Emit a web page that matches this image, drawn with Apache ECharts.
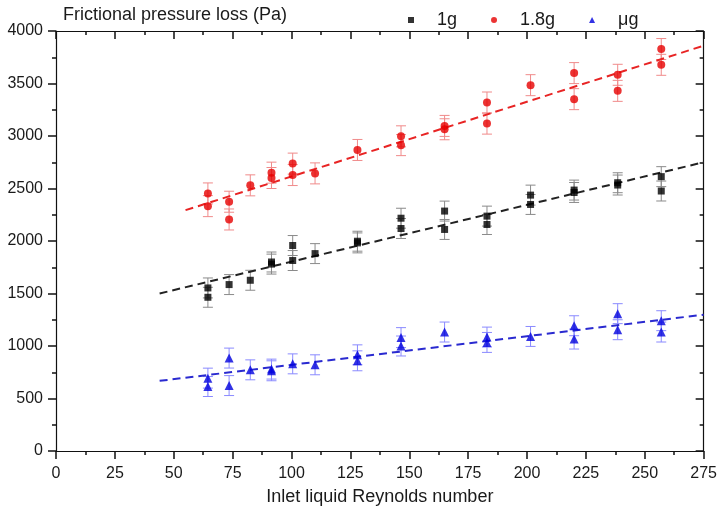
<!DOCTYPE html>
<html>
<head>
<meta charset="utf-8">
<script src="https://cdn.jsdelivr.net/npm/echarts@6/dist/echarts.min.js"></script>
<style>html,body{margin:0;padding:0;background:#fff}#c{width:720px;height:512px}</style>
</head>
<body>
<div id="c"></div>
<script>
// ---- data ----
const xTicks = [0, 25, 50, 75, 100, 125, 150, 175, 200, 225, 250, 275];
const yTicks = [0, 500, 1000, 1500, 2000, 2500, 3000, 3500, 4000];

const re1g = [64.5,64.5,73.5,82.5,91.5,91.5,100.5,100.5,110,128,128,146.5,146.5,165,165,183,183,201.5,201.5,220,220,238.5,238.5,257,257];
const dp1g = [1553,1464,1585,1626,1800,1780,1957,1814,1880,1998,1982,2217,2119,2285,2110,2237,2157,2437,2348,2485,2462,2555,2533,2613,2476];

const re18g = [64.5,64.5,73.5,73.5,82.5,91.5,91.5,100.5,100.5,110,128,146.5,146.5,165,165,183,183,201.5,220,220,238.5,238.5,257,257];
const dp18g = [2453,2332,2374,2205,2530,2651,2600,2737,2628,2644,2867,2997,2913,3096,3064,3319,3118,3484,3599,3351,3583,3430,3828,3678];

const reUg = [64.5,64.5,73.5,73.5,82.5,91.5,91.5,100.5,110,128,128,146.5,146.5,165,183,183,201.5,220,220,238.5,238.5,257,257];
const dpUg = [694,614,885,623,773,780,764,830,821,916,859,1080,1000,1133,1085,1034,1091,1193,1066,1308,1155,1241,1133];

const err1g = 95, err18g = 100, errUg = 95;

const fit1g = [[44, 1500], [275, 2750]];
const fit18g = [[55, 2294], [275, 3860]];
const fitUg = [[44, 668], [275, 1298]];

const names = ['1g', '1.8g', 'μg'];
// --------------------------------------

const pts = (xs, ys) => xs.map((x, i) => [x, ys[i]]);
const errPts = (xs, ys, e) => xs.map((x, i) => [x, ys[i], e]);

const FONT = 'Liberation Sans, Arial, sans-serif';
const TXT = '#1a1a1a';

function errSeries(xs, ys, e, color) {
  return {
    type: 'custom',
    silent: true,
    z: 1,
    data: errPts(xs, ys, e),
    encode: { x: 0, y: 1 },
    renderItem: function (params, api) {
      const x = api.value(0), y = api.value(1), er = api.value(2);
      const t = api.coord([x, y + er]);
      const b = api.coord([x, y - er]);
      const w = 5;
      const st = { stroke: color, lineWidth: 1, fill: null };
      return {
        type: 'group',
        children: [
          { type: 'line', shape: { x1: t[0], y1: t[1], x2: b[0], y2: b[1] }, style: st },
          { type: 'line', shape: { x1: t[0] - w, y1: t[1], x2: t[0] + w, y2: t[1] }, style: st },
          { type: 'line', shape: { x1: b[0] - w, y1: b[1], x2: b[0] + w, y2: b[1] }, style: st }
        ]
      };
    }
  };
}

function fitSeries(data, color) {
  return {
    type: 'line', data: data, symbol: 'none', silent: true, z: 2,
    lineStyle: { color: color, width: 2, type: [8, 5] }
  };
}

const plain = v => String(v);
const tickStyle = { color: '#111', width: 1.5 };

function axisCommon(inside, withMinor) {
  return {
    axisLine: { show: true, onZero: false, lineStyle: { color: '#111', width: 1.2 } },
    axisTick: { show: true, inside: inside, length: 8, lineStyle: tickStyle },
    minorTick: { show: withMinor, splitNumber: 2, length: 4, lineStyle: tickStyle },
    splitLine: { show: false }
  };
}

const chart = echarts.init(document.getElementById('c'), null, { renderer: 'canvas' });
chart.setOption({
  animation: false,
  backgroundColor: '#fff',
  textStyle: { fontFamily: FONT },
  grid: { left: 56, right: 15.5, top: 31, bottom: 61, containLabel: false },
  legend: {
    top: 6, left: 403,
    itemWidth: 6, itemHeight: 6, itemGap: 34,
    textStyle: { fontSize: 18, color: TXT, fontFamily: FONT, padding: [0, 0, 0, 18] },
    data: [
      { name: names[0], icon: 'rect' },
      { name: names[1], icon: 'circle' },
      { name: names[2], icon: 'triangle' }
    ]
  },
  xAxis: [Object.assign({
    type: 'value', min: xTicks[0], max: xTicks[xTicks.length - 1], interval: 25,
    name: 'Inlet liquid Reynolds number', nameLocation: 'middle', nameGap: 37,
    nameTextStyle: { fontSize: 18, color: TXT, fontFamily: FONT },
    axisLabel: { fontSize: 16, color: TXT, margin: 15, fontFamily: FONT, formatter: plain }
  }, axisCommon(false, true)), Object.assign({
    type: 'value', position: 'top', min: xTicks[0], max: xTicks[xTicks.length - 1], interval: 25,
    axisLabel: { show: false }
  }, axisCommon(true, true))],
  yAxis: [Object.assign({
    type: 'value', min: yTicks[0], max: yTicks[yTicks.length - 1], interval: 500,
    name: 'Frictional pressure loss (Pa)', nameLocation: 'end', nameGap: 16,
    nameTextStyle: { fontSize: 18, color: TXT, fontFamily: FONT, align: 'left', verticalAlign: 'middle', padding: [0, 0, 0, 7] },
    axisLabel: { fontSize: 16, color: TXT, margin: 13, fontFamily: FONT, formatter: plain }
  }, axisCommon(false, true)), Object.assign({
    type: 'value', position: 'right', min: yTicks[0], max: yTicks[yTicks.length - 1], interval: 500,
    axisLabel: { show: false }
  }, axisCommon(true, true))],
  series: [
    errSeries(re1g, dp1g, err1g, '#8a8a8a'),
    errSeries(re18g, dp18g, err18g, '#f08a8a'),
    errSeries(reUg, dpUg, errUg, '#8a8aff'),
    fitSeries(fit1g, '#222222'),
    fitSeries(fit18g, '#e82424'),
    fitSeries(fitUg, '#2a2ad0'),
    { name: names[0], type: 'scatter', symbol: 'rect', symbolSize: 7, z: 3,
      itemStyle: { color: '#000000' }, data: pts(re1g, dp1g) },
    { name: names[1], type: 'scatter', symbol: 'circle', symbolSize: 8, z: 3,
      itemStyle: { color: '#e60000' }, data: pts(re18g, dp18g) },
    { name: names[2], type: 'scatter', symbol: 'triangle', symbolSize: 9, z: 3,
      itemStyle: { color: '#0000dd' }, data: pts(reUg, dpUg) }
  ]
});
</script>
</body>
</html>
